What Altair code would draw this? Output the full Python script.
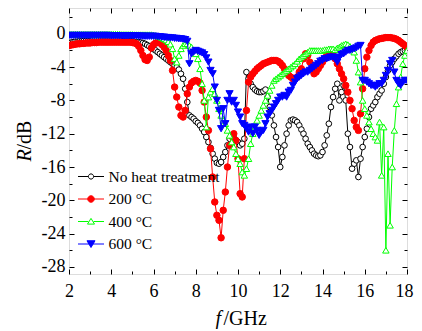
import altair as alt
import pandas as pd

# ---------------- data ----------------
freq = [round(2 + 0.1 * i, 1) for i in range(161)]  # 2.0 ... 18.0 GHz sampling grid

r_none = [
    -1.10, -1.05, -1.00, -0.95, -0.95, -0.90, -0.90, -0.85, -0.85, -0.85,
    -0.85, -0.80, -0.80, -0.80, -0.80, -0.80, -0.80, -0.80, -0.80, -0.80,
    -0.80, -0.80, -0.80, -0.80, -0.80, -0.80, -0.85, -0.85, -0.85, -0.90,
    -0.90, -0.95, -1.00, -1.00, -1.05, -1.10, -1.20, -1.35, -1.50, -1.65,
    -1.85, -2.00, -2.20, -2.40, -2.60, -2.80, -3.00, -3.20, -3.40, -3.60,
    -3.80, -4.00, -4.30, -4.80, -5.40, -6.60, -8.20, -9.80, -10.0, -10.2,
    -10.5, -10.7, -11.0, -11.4, -11.8, -12.4, -13.0, -13.7, -14.4, -15.0,
    -15.5, -15.6, -15.4, -14.8, -14.2, -13.4, -12.6, -12.3, -12.5, -12.8,
    -13.0, -13.4, -13.2, -12.6, -4.60, -5.40, -6.00, -6.40, -6.70, -6.90,
    -7.00, -7.00, -6.90, -6.70, -7.60, -8.80, -9.80, -11.0, -12.4, -13.6,
    -16.0, -14.8, -13.4, -12.0, -11.0, -10.4, -10.3, -10.4, -10.6, -11.0,
    -11.5, -12.0, -12.6, -13.2, -13.6, -14.0, -14.4, -14.6, -14.7, -14.6,
    -14.2, -13.4, -12.2, -10.8, -8.80, -7.60, -6.60, -6.00, -8.00, -7.00,
    -6.20, -8.00, -12.0, -13.6, -16.2, -15.6, -15.2, -17.2, -15.0, -13.6,
    -12.4, -11.4, -10.0, -9.00, -8.60, -8.20, -7.60, -7.20, -6.80, -6.00,
    -5.20, -4.40, -3.80, -3.40, -3.00, -2.70, -2.40, -2.20, -2.10, -2.00,
    -2.00,
]

r_200 = [
    -1.40, -1.35, -1.30, -1.25, -1.20, -1.20, -1.15, -1.15, -1.10, -1.10,
    -1.10, -1.05, -1.05, -1.05, -1.00, -1.00, -1.00, -1.00, -1.00, -1.00,
    -1.00, -1.00, -1.00, -1.00, -1.00, -1.00, -1.00, -1.00, -1.00, -1.00,
    -1.05, -1.10, -1.20, -1.50, -2.00, -2.60, -3.10, -3.20, -2.80, -1.70,
    -1.30, -1.10, -1.05, -1.10, -1.30, -1.60, -2.00, -2.60, -3.20, -4.40,
    -6.40, -7.60, -8.80, -9.80, -10.0, -9.20, -7.20, -6.40, -5.90, -5.70,
    -5.60, -5.70, -5.90, -6.80, -8.20, -10.0, -11.6, -13.8, -17.2, -20.2,
    -21.8, -22.4, -24.5, -21.2, -19.0, -16.0, -13.4, -12.3, -12.0, -12.8,
    -15.0, -19.2, -19.6, -15.0, -9.20, -5.80, -5.20, -4.80, -4.50, -4.20,
    -4.00, -3.80, -3.60, -3.50, -3.40, -3.30, -3.20, -3.20, -3.20, -3.30,
    -3.50, -3.80, -4.20, -4.60, -5.00, -5.20, -5.40, -5.40, -5.20, -4.60,
    -4.20, -3.00, -2.40, -2.60, -3.40, -4.20, -4.80, -4.60, -4.20, -3.80,
    -3.40, -3.00, -2.60, -2.40, -2.40, -2.60, -3.00, -3.60, -4.20, -4.80,
    -5.40, -6.20, -7.00, -8.00, -9.00, -10.4, -11.2, -11.6, -9.60, -6.60,
    -4.20, -2.80, -2.00, -1.40, -1.00, -0.80, -0.70, -0.60, -0.55, -0.50,
    -0.45, -0.45, -0.45, -0.50, -0.55, -0.65, -0.80, -1.00, -1.20, -1.40,
    -1.60,
]

r_400 = [
    -0.05, -0.05, -0.05, -0.05, -0.05, -0.05, -0.05, -0.05, -0.05, -0.05,
    -0.05, -0.05, -0.05, -0.05, -0.05, -0.05, -0.05, -0.05, -0.05, -0.05,
    -0.05, -0.05, -0.05, -0.05, -0.05, -0.08, -0.08, -0.08, -0.08, -0.08,
    -0.08, -0.10, -0.10, -0.10, -0.10, -0.10, -0.10, -0.10, -0.10, -0.10,
    -0.15, -0.20, -0.25, -0.35, -0.45, -0.60, -0.75, -0.95, -1.25, -1.80,
    -3.00, -3.40, -2.60, -1.80, -1.40, -1.20, -1.20, -1.40, -1.60, -2.00,
    -2.40, -3.00, -4.20, -6.00, -8.00, -11.2, -7.60, -7.00, -6.60, -7.20,
    -8.00, -9.00, -9.80, -10.4, -10.8, -11.6, -12.2, -13.0, -13.6, -14.4,
    -15.0, -15.6, -16.6, -17.0, -16.2, -15.0, -13.2, -12.0, -11.2, -10.4,
    -9.80, -9.20, -8.60, -8.00, -7.40, -6.80, -6.20, -5.60, -5.40, -5.20,
    -5.00, -4.80, -4.60, -4.40, -4.20, -4.00, -3.80, -3.60, -3.30, -3.00,
    -2.80, -2.60, -2.40, -2.20, -2.00, -2.00, -2.00, -2.00, -2.00, -2.00,
    -2.00, -1.90, -1.90, -1.80, -1.80, -1.80, -1.90, -1.70, -1.60, -1.40,
    -1.30, -1.20, -1.30, -1.50, -1.80, -2.20, -3.20, -4.60, -5.80, -8.00,
    -9.00, -9.80, -10.6, -11.4, -12.0, -12.4, -12.8, -10.6, -17.0, -11.2,
    -26.0, -14.4, -23.0, -16.0, -11.6, -8.40, -6.40, -5.20, -3.60, -2.60,
    -2.00,
]

r_600 = [
    -0.20, -0.20, -0.20, -0.20, -0.20, -0.20, -0.20, -0.20, -0.20, -0.20,
    -0.20, -0.20, -0.20, -0.20, -0.20, -0.20, -0.20, -0.20, -0.20, -0.20,
    -0.25, -0.25, -0.25, -0.25, -0.25, -0.25, -0.25, -0.25, -0.25, -0.25,
    -0.25, -0.25, -0.25, -0.28, -0.28, -0.28, -0.30, -0.30, -0.30, -0.30,
    -0.30, -0.30, -0.35, -0.35, -0.40, -0.40, -0.45, -0.45, -0.50, -0.50,
    -0.55, -0.55, -0.60, -0.60, -0.65, -0.70, -0.90, -3.60, -2.40, -2.20,
    -2.00, -2.10, -2.20, -2.30, -2.50, -2.90, -3.40, -4.40, -4.80, -6.40,
    -8.00, -9.20, -11.4, -9.00, -10.8, -8.00, -7.20, -8.20, -8.00, -8.60,
    -9.40, -10.0, -10.8, -11.0, -11.4, -11.8, -11.2, -12.0, -11.2, -11.6,
    -12.2, -11.8, -11.6, -10.8, -10.0, -9.60, -9.20, -8.80, -8.40, -8.00,
    -7.60, -7.60, -7.40, -7.60, -7.00, -6.80, -6.20, -5.80, -5.40, -5.20,
    -5.00, -4.80, -4.60, -4.60, -4.40, -4.20, -4.00, -3.80, -3.60, -3.30,
    -3.20, -3.00, -3.00, -2.90, -2.80, -2.80, -3.00, -3.40, -2.80, -2.50,
    -2.40, -2.20, -2.00, -2.00, -1.90, -1.80, -1.70, -1.50, -1.40, -5.60,
    -5.60, -5.80, -6.00, -6.20, -6.20, -6.40, -6.20, -6.00, -6.00, -5.60,
    -5.00, -4.40, -3.60, -3.20, -4.60, -5.60, -6.00, -6.20, -5.80, -5.60,
    -5.60,
]

names = ["No heat treatment", "200 \u00b0C", "400 \u00b0C", "600 \u00b0C"]
series = [r_none, r_200, r_400, r_600]

x_major = [2, 4, 6, 8, 10, 12, 14, 16, 18]
x_minor = [3, 5, 7, 9, 11, 13, 15, 17]
y_major = [-28, -24, -20, -16, -12, -8, -4, 0]
y_minor = [-26, -22, -18, -14, -10, -6, -2, 2]

# ---------------- styling ----------------
FONT = "Liberation Serif, Times New Roman, serif"
colors = ["#000000", "#ff0000", "#00ff00", "#0000ff"]
fills = ["#ffffff", "#ff0000", "#ffffff", "#0000ff"]
shapes = ["circle", "circle", "triangle-up", "triangle-down"]
sizes = [32, 42, 42, 52]
legend_paths = [
    "M-1,0H-0.2M0.2,0H1M-0.2,0A0.2,0.2,0,1,0,0.2,0A0.2,0.2,0,1,0,-0.2,0Z",
    "M-1,0H1M-0.25,0A0.25,0.25,0,1,0,0.25,0A0.25,0.25,0,1,0,-0.25,0Z",
    "M-1,0H-0.2M0.2,0H1M0,-0.24L0.27,0.2L-0.27,0.2Z",
    "M-1,0H1M0,0.27L0.31,-0.25L-0.31,-0.25Z",
]

W, H = 338, 266
xscale = alt.Scale(domain=[2, 18], nice=False, zero=False)
yscale = alt.Scale(domain=[-28.85, 3.1], nice=False, zero=False)

common = dict(domain=False, grid=False, tickColor="black", tickWidth=1,
              labelFlush=False, labelOverlap=False)
title_style = dict(titleFont=FONT, titleFontSize=20, titleFontWeight="normal",
                   titleColor="black", titleBaseline="alphabetic", titleAlign="left")
LABEL_SIZE = 18

ax_bottom_major = alt.Axis(orient="bottom", values=x_major, offset=-5, tickSize=5,
                           labelFont=FONT, labelFontSize=LABEL_SIZE, labelColor="black",
                           labelPadding=8, labelExpr="'' + datum.value",
                           labelOffset={"condition": {"test": "datum.value == 18", "value": -3},
                                        "value": 0},
                           title="/GHz", titleX=154, titleY=55, titleAngle=0,
                           **title_style, **common)
ax_bottom_minor = alt.Axis(orient="bottom", values=x_minor, offset=-3, tickSize=3,
                           labels=False, title="f", titleFontStyle="italic",
                           titleX=146, titleY=53, titleAngle=0,
                           **title_style, **common)
ax_top_major = alt.Axis(orient="top", values=x_major, offset=-5, tickSize=5,
                        labels=False, title=None, **common)
ax_top_minor = alt.Axis(orient="top", values=x_minor, offset=-3, tickSize=3,
                        labels=False, title=None, **common)
ax_left_major = alt.Axis(orient="left", values=y_major, offset=-5, tickSize=5,
                         labelFont=FONT, labelFontSize=LABEL_SIZE, labelColor="black",
                         labelPadding=4, labelExpr="'' + datum.value",
                         title="/dB", titleAngle=270, titleX=-44, titleY=141,
                         **title_style, **common)
ax_left_minor = alt.Axis(orient="left", values=y_minor, offset=-3, tickSize=3,
                         labels=False, title="R", titleFontStyle="italic",
                         titleAngle=270, titleX=-42, titleY=153,
                         **title_style, **common)
ax_right_major = alt.Axis(orient="right", values=y_major, offset=-5, tickSize=5,
                          labels=False, title=None, **common)
ax_right_minor = alt.Axis(orient="right", values=y_minor, offset=-3, tickSize=3,
                          labels=False, title=None, **common)

axes = [
    (ax_bottom_major, ax_left_major, ax_bottom_minor, ax_left_minor),
    (ax_top_major, ax_right_major, ax_top_minor, ax_right_minor),
    (None, None, None, None),
    (None, None, None, None),
]

layers = []
for i, vals in enumerate(series):
    df = pd.DataFrame({"f": freq, "R": vals})
    xa_l, ya_l, xa_p, ya_p = axes[i]
    base = alt.Chart(df)
    line = base.mark_line(color=colors[i], strokeWidth=1, clip=True).encode(
        x=alt.X("f:Q", scale=xscale, axis=xa_l),
        y=alt.Y("R:Q", scale=yscale, axis=ya_l),
    )
    pts = base.mark_point(shape=shapes[i], size=sizes[i], filled=True, opacity=1,
                          strokeWidth=1, clip=True).encode(
        x=alt.X("f:Q", scale=xscale, axis=xa_p),
        y=alt.Y("R:Q", scale=yscale, axis=ya_p),
        fill=alt.value(fills[i]),
        stroke=alt.value(colors[i]),
    )
    layers += [line, pts]

# legend (native Vega-Lite legend, no visible data of its own)
leg_df = pd.DataFrame({"series": names, "f": [10] * 4, "R": [0] * 4})
leg = alt.Legend(orient="none", legendX=8.5, legendY=155, title=None,
                 symbolSize=676, symbolStrokeWidth=1, symbolOpacity=1,
                 labelFont=FONT, labelFontSize=15.5, labelColor="black",
                 labelOffset=4, rowPadding=0.5, padding=0)
legend_layer = alt.Chart(leg_df).mark_point(opacity=1, strokeWidth=1).encode(
    x=alt.X("f:Q", scale=xscale, axis=None),
    y=alt.Y("R:Q", scale=yscale, axis=None),
    shape=alt.Shape("series:N", scale=alt.Scale(domain=names, range=legend_paths), legend=leg),
    stroke=alt.Stroke("series:N", scale=alt.Scale(domain=names, range=colors), legend=leg),
    fill=alt.Fill("series:N", scale=alt.Scale(domain=names, range=fills), legend=leg),
).transform_filter("false")
layers.append(legend_layer)

chart = alt.layer(*layers).resolve_axis(
    x="independent", y="independent"
).properties(
    width=W, height=H,
    autosize=alt.AutoSizeParams(type="none"),
    padding={"left": 61, "top": 0, "right": 7, "bottom": 55},
).configure_view(stroke="black", strokeWidth=1).configure(background="white")

chart.save("out.html", embed_options={"renderer": "svg", "actions": False})
